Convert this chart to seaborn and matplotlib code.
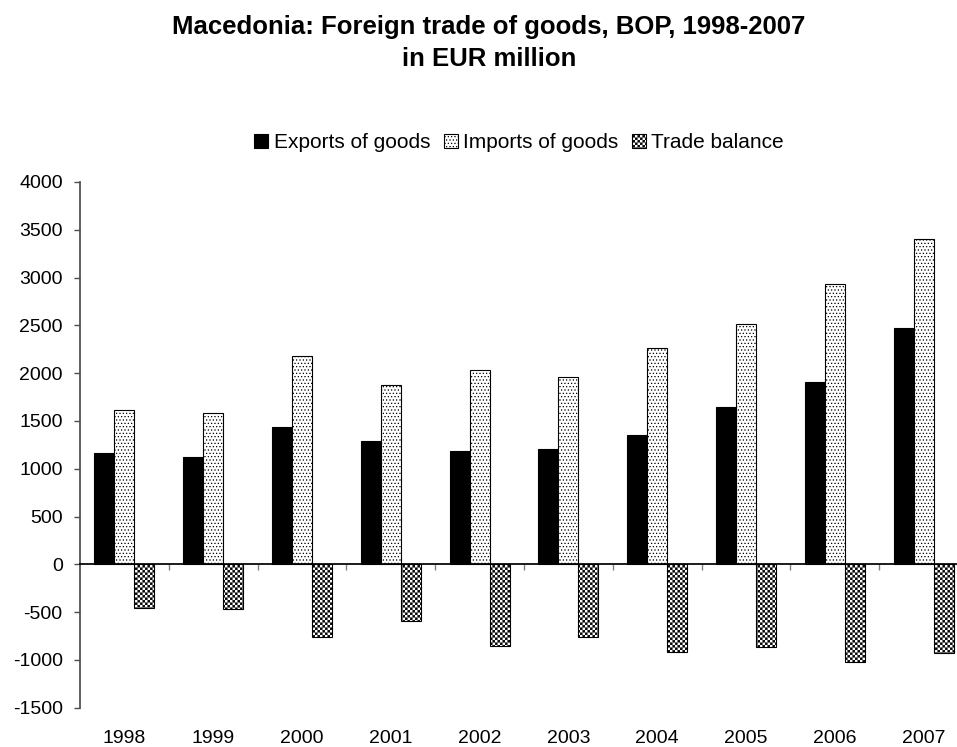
import numpy as np
import pandas as pd
import matplotlib
matplotlib.use("Agg")
import matplotlib.pyplot as plt
import matplotlib.hatch as mhatch
from matplotlib.path import Path
import seaborn as sns

years = ['1998', '1999', '2000', '2001', '2002', '2003', '2004', '2005', '2006', '2007']
exports = [1160, 1122, 1438, 1292, 1185, 1207, 1350, 1645, 1908, 2475]
imports = [1614, 1586, 2183, 1878, 2035, 1960, 2265, 2515, 2935, 3405]
balance = [-460, -468, -757, -597, -858, -756, -922, -862, -1025, -931]
series = ['Exports of goods', 'Imports of goods', 'Trade balance']


# checkerboard hatch for trade balance, used in place of the '*' pattern
class Checker(mhatch.HatchPatternBase):
    def __init__(self, hatch, density):
        self.n = 40 if '*' in hatch else 0
        self.num_vertices = self.n * self.n // 2 * 5

    def set_vertices_and_codes(self, vertices, codes):
        a = 1.0 / self.n
        e = 0.0035
        k = 0
        for i in range(self.n):
            for j in range(self.n):
                if (i + j) % 2:
                    continue
                x, y = i * a, j * a
                vertices[k:k + 5] = [[x + e, y + e], [x + a - e, y + e], [x + a - e, y + a - e],
                                     [x + e, y + a - e], [x + e, y + e]]
                codes[k:k + 5] = [Path.MOVETO, Path.LINETO, Path.LINETO, Path.LINETO, Path.CLOSEPOLY]
                k += 5


mhatch._hatch_types = [h for h in mhatch._hatch_types if h is not mhatch.Stars] + [Checker]

df = pd.DataFrame({
    'year': years * 3,
    'series': np.repeat(series, len(years)),
    'value': exports + imports + balance,
})

sns.set_theme(style='white')
plt.rcParams['font.family'] = ['Liberation Sans', 'DejaVu Sans']
plt.rcParams['text.color'] = 'black'
plt.rcParams['axes.unicode_minus'] = False
plt.rcParams['hatch.linewidth'] = 0.5
plt.rcParams['hatch.color'] = 'black'

W, H = 957, 747
fig = plt.figure(figsize=(W / 100, H / 100), dpi=100)
ax = fig.add_axes([80 / W, 39.3 / H, 888 / W, 525.8 / H])

sns.barplot(data=df, x='year', y='value', hue='series', palette=['black', 'white', 'white'],
            width=0.675, saturation=1, edgecolor='black', linewidth=0.8, legend=False, ax=ax)

for cont, h in zip(ax.containers, ['', '.....', '*']):
    for p in cont:
        p.set_hatch(h)

ax.set_xlim(-0.5, 9.5)
ax.set_ylim(-1500, 4000)
ax.set_yticks(range(-1500, 4001, 500))
ax.set_xlabel('')
ax.set_ylabel('')

ax.spines['top'].set_visible(False)
ax.spines['right'].set_visible(False)
ax.spines['bottom'].set_position(('data', 0))
ax.spines['bottom'].set_color('black')
ax.spines['left'].set_color('0.3')

ax.set_xticks(np.arange(0.5, 9.5, 1), minor=True)
ax.tick_params(axis='x', which='major', length=0, pad=119.5, labelsize=14, labelcolor='black')
ax.tick_params(axis='x', which='minor', length=4.5, width=1, color='0.5', direction='out', bottom=True)
ax.tick_params(axis='y', length=4.5, width=1, color='0.3', direction='out', left=True,
               labelsize=14, labelcolor='black', pad=8)

ax.legend(ax.containers, series, loc='center', bbox_to_anchor=(519 / W, 1 - 143 / H),
          bbox_transform=fig.transFigure, ncol=3, frameon=False, fontsize=15,
          handlelength=0.68, handleheight=0.68, handletextpad=0.25, columnspacing=0.65)

fig.text(489 / W, 1 - 27 / H, 'Macedonia: Foreign trade of goods, BOP, 1998-2007',
         ha='center', va='center', fontsize=18.5, fontweight='bold')
fig.text(489 / W, 1 - 59 / H, 'in EUR million', ha='center', va='center', fontsize=18.5, fontweight='bold')

fig.savefig('out.png', dpi=100)
